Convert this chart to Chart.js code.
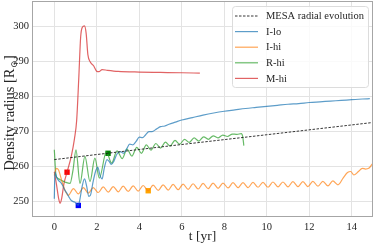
<!DOCTYPE html>
<html>
<head>
<meta charset="utf-8">
<script src="https://cdn.jsdelivr.net/npm/chart.js@4/dist/chart.umd.min.js"></script>
<style>
  html, body { margin: 0; padding: 0; background: #fff; }
  #box { width: 374px; height: 245px; }
</style>
</head>
<body>
<div id="box"><canvas id="grafico"></canvas></div>
<script>
// MESA reference track
const mesaT = [0, 5, 10, 15];
const mesaR = [262.0, 265.6, 269.1, 272.6];

// I-lo
const iloT = [0, 0.03, 0.1, 0.2, 0.3, 0.4, 0.5, 0.6, 0.7, 0.8, 0.9, 1.0, 1.13, 1.2, 1.3, 1.42, 1.52, 1.62, 1.7, 1.82, 1.95, 2.05, 2.15, 2.25, 2.35, 2.48, 2.58, 2.68, 2.8, 2.95, 3.1, 3.25, 3.4, 3.55, 3.7, 3.85, 4.0, 4.15, 4.3, 4.45, 4.6, 4.8, 5.0, 5.2, 5.4, 5.7, 6.0, 6.5, 7.0, 7.5, 8.0, 8.5, 9.0, 9.5, 10.0, 10.5, 11.0, 11.5, 12.0, 12.5, 13.0, 13.5, 14.0, 14.5, 14.85];
const iloR = [250.8, 258.5, 257.0, 256.0, 255.5, 254.5, 253.2, 252.3, 251.2, 250.3, 250.0, 249.7, 249.0, 250.5, 254.0, 256.5, 254.5, 251.5, 251.8, 255.5, 258.8, 259.8, 257.5, 256.5, 259.5, 262.0, 261.5, 260.6, 261.5, 263.6, 264.3, 263.8, 265.0, 266.4, 266.2, 267.2, 268.4, 268.3, 269.1, 270.0, 270.0, 270.7, 271.4, 271.6, 272.1, 272.7, 273.3, 274.0, 274.7, 275.3, 275.8, 276.2, 276.6, 276.9, 277.2, 277.5, 277.8, 278.0, 278.3, 278.5, 278.7, 278.9, 279.1, 279.3, 279.4];

// I-hi
const ihiT = [0, 0.1, 0.2, 0.35, 0.5, 0.66, 0.9, 1.13, 1.37, 1.6, 1.83, 2.07, 2.3, 2.54, 2.77, 3.01, 3.24, 3.48, 3.71, 3.95, 4.18, 4.42, 4.65, 4.89, 5.12, 5.36, 5.59, 5.83, 6.06, 6.3, 6.53, 6.77, 7.0, 7.24, 7.47, 7.71, 7.94, 8.18, 8.41, 8.65, 8.88, 9.12, 9.35, 9.59, 9.82, 10.06, 10.29, 10.53, 10.76, 11.0, 11.23, 11.47, 11.7, 11.94, 12.17, 12.41, 12.64, 12.88, 13.11, 13.35, 13.6, 13.8, 13.95, 14.1, 14.3, 14.5, 14.65, 14.8, 15.0, 15.1];
const ihiR = [257.5, 259.5, 259.0, 256.0, 253.3, 251.8, 253.7, 252.2, 254.0, 252.4, 254.0, 252.6, 254.2, 252.7, 254.3, 252.8, 254.4, 252.9, 254.5, 253.0, 254.6, 253.1, 254.7, 253.2, 254.8, 253.3, 254.9, 253.4, 255.0, 253.5, 255.1, 253.6, 255.2, 253.7, 255.3, 253.8, 255.3, 253.9, 255.4, 254.0, 255.4, 254.0, 255.5, 254.1, 255.5, 254.1, 255.6, 254.2, 255.6, 254.2, 255.7, 254.3, 255.7, 254.3, 255.8, 254.4, 255.8, 254.5, 255.9, 254.8, 256.8, 258.3, 258.6, 257.6, 258.5, 259.5, 259.3, 259.5, 261.0, 261.3];

// R-hi
const rhiT = [0, 0.08, 0.2, 0.35, 0.5, 0.74, 0.88, 1.02, 1.21, 1.44, 1.68, 1.91, 2.12, 2.45, 2.7, 2.95, 3.2, 3.42, 3.65, 3.88, 4.1, 4.33, 4.55, 4.78, 5.0, 5.23, 5.45, 5.68, 5.9, 6.13, 6.35, 6.58, 6.8, 7.03, 7.25, 7.48, 7.7, 7.93, 8.15, 8.38, 8.6, 8.8, 8.87, 8.92];
const rhiR = [264.8, 257.5, 256.5, 256.0, 255.6, 255.2, 259.0, 264.8, 255.2, 262.9, 255.7, 262.4, 256.7, 264.2, 261.0, 264.5, 262.3, 265.0, 263.0, 265.5, 263.8, 266.2, 264.7, 266.6, 265.3, 267.0, 265.9, 267.5, 266.4, 267.8, 266.9, 268.2, 267.3, 268.5, 267.8, 268.8, 268.2, 269.0, 268.6, 269.3, 269.2, 269.4, 268.5, 266.0];

// M-hi
const mhiT = [0, 0.1, 0.2, 0.27, 0.35, 0.45, 0.6, 0.8, 0.95, 1.05, 1.15, 1.24, 1.32, 1.42, 1.5, 1.58, 1.7, 1.85, 2.0, 2.1, 2.25, 2.5, 3.0, 4.0, 5.0, 6.0, 6.85];
const mhiR = [258.5, 255.0, 251.0, 249.5, 251.0, 255.0, 258.4, 263.0, 268.0, 273.0, 285.0, 297.0, 299.8, 300.2, 298.0, 292.0, 289.8, 288.8, 287.2, 287.1, 287.7, 287.5, 287.2, 287.0, 286.9, 286.8, 286.7];

// square markers
const marcaT = [0.6, 1.13, 2.53, 4.42];
const marcaR = [258.4, 248.9, 263.8, 253.1];
const marcaCor = ["#ff0000", "#0000ff", "#008000", "#ffa500"];

const xTicks = [0, 2, 4, 6, 8, 10, 12, 14];
const yTicks = [250, 260, 270, 280, 290, 300];

const fonte = "'Liberation Serif', 'DejaVu Serif', serif";

function pontos(ts, rs) {
  return ts.map((t, i) => ({ x: t, y: rs[i] }));
}

function serie(label, ts, rs, cor, extra) {
  return Object.assign({
    label: label,
    data: pontos(ts, rs),
    borderColor: cor,
    backgroundColor: cor,
    borderWidth: 1.2,
    pointRadius: 0,
    cubicInterpolationMode: "monotone",
    inLegend: true
  }, extra || {});
}

const datasets = [
  serie("MESA radial evolution", mesaT, mesaR, "rgba(20,20,20,0.85)", { borderDash: [2.5, 1.5], borderWidth: 1, tension: 0 }),
  serie("I-lo", iloT, iloR, "rgba(31,119,180,0.72)"),
  serie("I-hi", ihiT, ihiR, "rgba(255,127,14,0.7)"),
  serie("R-hi", rhiT, rhiR, "rgba(44,160,44,0.72)"),
  serie("M-hi", mhiT, mhiR, "rgba(214,39,40,0.72)")
];

marcaT.forEach((t, i) => {
  datasets.push({
    label: "marca" + i,
    data: [{ x: t, y: marcaR[i] }],
    showLine: false,
    pointStyle: "rect",
    pointRadius: 3.8,
    pointBorderWidth: 0,
    pointBackgroundColor: marcaCor[i],
    borderColor: marcaCor[i]
  });
});

// frame around the plot area
const moldura = {
  id: "moldura",
  afterDatasetsDraw(chart) {
    const { ctx, chartArea: a } = chart;
    ctx.save();
    ctx.strokeStyle = "#a6a6a6";
    ctx.lineWidth = 1;
    ctx.strokeRect(a.left + 0.5, a.top + 0.5, a.right - a.left - 1, a.bottom - a.top - 1);
    ctx.restore();
  }
};

// y title with the solar subscript
const tituloY = {
  id: "tituloY",
  afterDraw(chart) {
    const { ctx, chartArea: a } = chart;
    const p1 = "Density radius [R", sub = "⊙", p2 = "]";
    ctx.save();
    ctx.fillStyle = "#262626";
    ctx.textBaseline = "alphabetic";
    ctx.font = "14.5px " + fonte;
    const w1 = ctx.measureText(p1).width, w3 = ctx.measureText(p2).width;
    ctx.font = "9px " + fonte;
    const w2 = ctx.measureText(sub).width;
    const total = w1 + w2 + w3 + 1;
    ctx.translate(14, (a.top + a.bottom) / 2 + 4);
    ctx.rotate(-Math.PI / 2);
    let x = -total / 2;
    ctx.font = "14.5px " + fonte;
    ctx.fillText(p1, x, 0);
    x += w1 + 0.5;
    ctx.font = "9px " + fonte;
    ctx.fillText(sub, x, 3);
    x += w2 + 0.5;
    ctx.font = "14.5px " + fonte;
    ctx.fillText(p2, x, 0);
    ctx.restore();
  }
};

// legend drawn inside the axes, top right
const legenda = {
  id: "legenda",
  afterDraw(chart) {
    const { ctx, chartArea: a } = chart;
    const itens = chart.data.datasets.filter(d => d.inLegend);
    const w = 136, h = 81;
    const x0 = a.right - 5 - w, y0 = a.top + 5;
    ctx.save();
    ctx.beginPath();
    ctx.roundRect(x0 + 0.5, y0 + 0.5, w, h, 3);
    ctx.fillStyle = "rgba(255,255,255,0.8)";
    ctx.fill();
    ctx.strokeStyle = "#dcdcdc";
    ctx.lineWidth = 1;
    ctx.stroke();
    ctx.font = "10.5px " + fonte;
    ctx.textBaseline = "middle";
    ctx.fillStyle = "#262626";
    itens.forEach((d, i) => {
      const y = y0 + 10 + i * 15.6;
      ctx.beginPath();
      ctx.setLineDash(d.borderDash || []);
      ctx.strokeStyle = d.borderColor;
      ctx.lineWidth = d.borderWidth;
      ctx.moveTo(x0 + 3, y);
      ctx.lineTo(x0 + 26, y);
      ctx.stroke();
      ctx.setLineDash([]);
      ctx.fillText(d.label, x0 + 34, y + 0.5);
    });
    ctx.restore();
  }
};

const ctx = document.getElementById("grafico").getContext("2d");
new Chart(ctx, {
  type: "line",
  data: { datasets },
  plugins: [moldura, tituloY, legenda],
  options: {
    responsive: true,
    maintainAspectRatio: false,
    animation: false,
    layout: { autoPadding: false, padding: { top: 1, right: 1, left: 0, bottom: 0 } },
    plugins: {
      legend: { display: false },
      tooltip: { enabled: false }
    },
    scales: {
      x: {
        type: "linear",
        min: -1.05,
        max: 15,
        afterFit: s => { s.height = 28; s.paddingLeft = 0; s.paddingRight = 0; },
        afterBuildTicks: s => { s.ticks = xTicks.map(v => ({ value: v })); },
        grid: { color: "#e3e3e3", lineWidth: 1, drawTicks: false },
        border: { display: false },
        ticks: { padding: 4, color: "#262626", font: { family: fonte, size: 10.5 } },
        title: { display: true, text: "t [yr]", color: "#262626", font: { family: fonte, size: 13.5 }, padding: { top: 0, bottom: 0 } }
      },
      y: {
        min: 245.6,
        max: 307.3,
        afterFit: s => { s.width = 32; s.paddingTop = 0; s.paddingBottom = 0; },
        afterBuildTicks: s => { s.ticks = yTicks.map(v => ({ value: v })); },
        grid: { color: "#e3e3e3", lineWidth: 1, drawTicks: false },
        border: { display: false },
        ticks: { padding: 3, color: "#262626", font: { family: fonte, size: 10.5, lineHeight: 0.15 } },
        title: { display: false }
      }
    }
  }
});
</script>
</body>
</html>
